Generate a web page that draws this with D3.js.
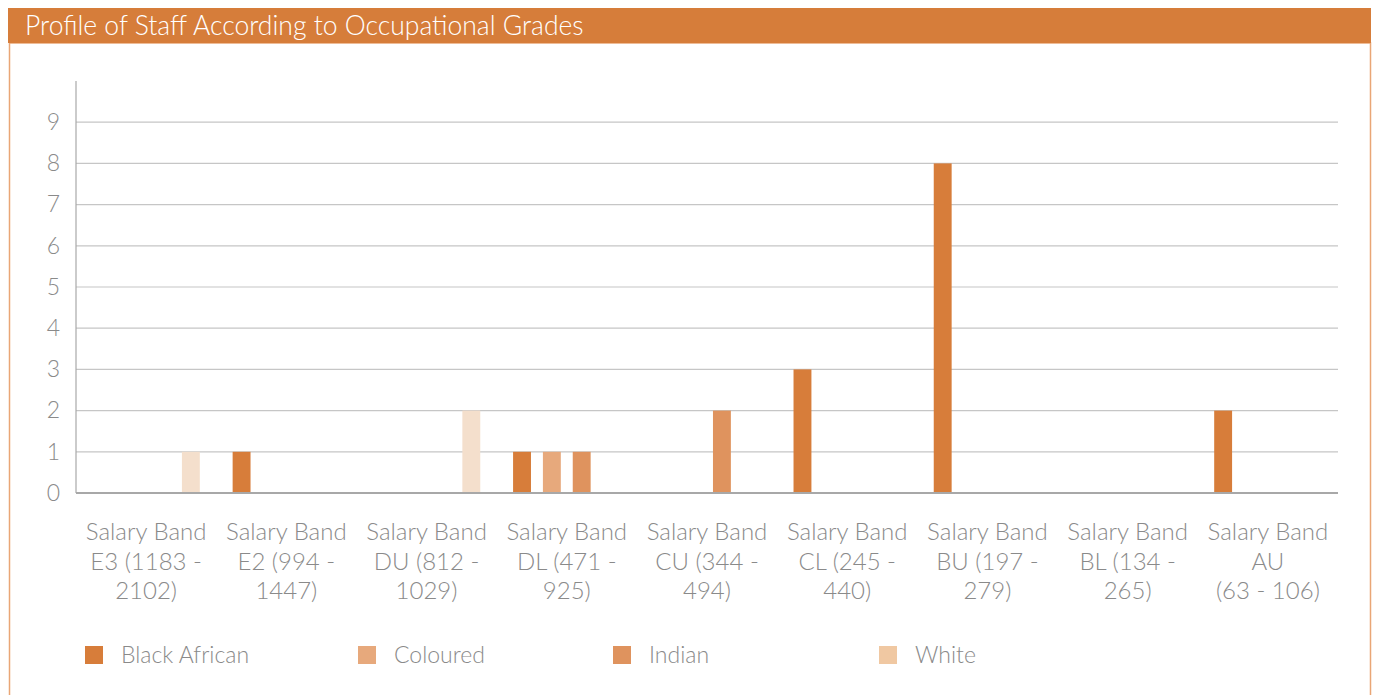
<!DOCTYPE html>
<html>
<head>
<meta charset="utf-8">
<script src="https://cdn.jsdelivr.net/npm/d3@7/dist/d3.min.js"></script>
<style>
  html, body { margin: 0; padding: 0; background: #fff; }
  svg { display: block; }
  text { font-family: Lato, "Open Sans", sans-serif; }
</style>
</head>
<body>
<svg id="chart" width="1378" height="695"></svg>
<script>
// Salary bands (categories) with their label lines
const bands = ["E3", "E2", "DU", "DL", "CU", "CL", "BU", "BL", "AU"];
const bandLabels = [
  ["Salary Band", "E3 (1183 -", "2102)"],
  ["Salary Band", "E2 (994 -", "1447)"],
  ["Salary Band", "DU (812 -", "1029)"],
  ["Salary Band", "DL (471 -", "925)"],
  ["Salary Band", "CU (344 -", "494)"],
  ["Salary Band", "CL (245 -", "440)"],
  ["Salary Band", "BU (197 -", "279)"],
  ["Salary Band", "BL (134 -", "265)"],
  ["Salary Band", "AU", "(63 - 106)"]
];

// Staff counts per series, one value per band
const series = ["Black African", "Coloured", "Indian", "White"];
const blackAfrican = [0, 1, 0, 1, 0, 3, 8, 0, 2];
const coloured     = [0, 0, 0, 1, 0, 0, 0, 0, 0];
const indian       = [0, 0, 0, 1, 2, 0, 0, 0, 0];
const white        = [1, 0, 2, 0, 0, 0, 0, 0, 0];
const yTicks = [0, 1, 2, 3, 4, 5, 6, 7, 8, 9];

const barColors    = ["#d77d3a", "#e7a97c", "#df935e", "#f4dfcc"];
const legendColors = ["#d77d3a", "#e7a97c", "#df935e", "#f0c8a2"];

const values = [blackAfrican, coloured, indian, white];
const rows = bands.map((b, i) => ({
  band: b,
  vals: series.map((s, j) => ({ key: s, idx: j, value: values[j][i] }))
}));

const svg = d3.select("#chart");

// Frame: title bar plus outlined panel
svg.append("rect").attr("x", 9.5).attr("y", 43).attr("width", 1361).attr("height", 660)
  .attr("fill", "#fff").attr("stroke", "#e9a676").attr("stroke-width", 1.5);
svg.append("rect").attr("x", 8).attr("y", 8).attr("width", 1363).attr("height", 35)
  .attr("fill", "#d67d3a");
svg.append("text").attr("x", 25).attr("y", 35)
  .attr("fill", "#fff").attr("font-size", 26.5).attr("font-weight", 300)
  .text("Profile of Staff According to Occupational Grades");

// Plot area
const plotL = 76, plotR = 1338, plotT = 81, plotB = 493;

const x0 = d3.scaleBand().domain(bands).range([plotL, plotR]).paddingInner(0).paddingOuter(0);
const x1 = d3.scaleBand().domain(series).range([0, x0.bandwidth()])
  .paddingInner(0.4).paddingOuter(0.55);
const y = d3.scaleLinear().domain([0, 10]).range([plotB, plotT]);

// Gridlines
svg.append("g").selectAll("line").data(yTicks.filter(t => t > 0)).join("line")
  .attr("x1", plotL).attr("x2", plotR)
  .attr("y1", d => y(d)).attr("y2", d => y(d))
  .attr("stroke", "#c6c6c6").attr("stroke-width", 1.2);

// Y axis with tick labels
const yAxis = d3.axisLeft(y).tickValues(yTicks).tickSize(0).tickPadding(16).tickFormat(d3.format("d"));
const gy = svg.append("g").attr("transform", `translate(${plotL},0)`).call(yAxis);
gy.select(".domain").remove();
gy.selectAll("text").attr("font-size", 23).attr("font-weight", 300).attr("fill", "#8a8a8a")
  .attr("font-family", "Lato, 'Open Sans', sans-serif");
svg.append("line").attr("x1", plotL).attr("x2", plotL).attr("y1", plotT).attr("y2", plotB)
  .attr("stroke", "#a8a8a8").attr("stroke-width", 1.2);

// Bars
const groups = svg.append("g").selectAll("g").data(rows).join("g")
  .attr("transform", d => `translate(${x0(d.band)},0)`);
groups.selectAll("rect").data(d => d.vals.filter(v => v.value > 0)).join("rect")
  .attr("x", d => x1(d.key))
  .attr("width", x1.bandwidth())
  .attr("y", d => y(d.value))
  .attr("height", d => y(0) - y(d.value))
  .attr("fill", d => barColors[d.idx]);

// X axis baseline and multi-line category labels
const xAxis = d3.axisBottom(x0).tickSize(0).tickFormat("");
const gx = svg.append("g").attr("transform", `translate(0,${plotB})`).call(xAxis);
gx.select(".domain").attr("stroke", "#a8a8a8").attr("stroke-width", 2).attr("d", `M${plotL},0H${plotR}`);
const lbl = svg.append("g").selectAll("text").data(bands).join("text")
  .attr("x", d => x0(d) + x0.bandwidth() / 2)
  .attr("y", 540)
  .attr("text-anchor", "middle")
  .attr("font-size", 24).attr("font-weight", 300).attr("fill", "#8a8a8a");
lbl.selectAll("tspan").data((d, i) => bandLabels[i]).join("tspan")
  .attr("x", function () { return d3.select(this.parentNode).attr("x"); })
  .attr("dy", (d, i) => i === 0 ? 0 : 29.5)
  .text(d => d);

// Legend
const legendX = [85, 358, 613, 879];
const lg = svg.append("g").selectAll("g").data(series).join("g")
  .attr("transform", (d, i) => `translate(${legendX[i]},646)`);
lg.append("rect").attr("width", 18).attr("height", 18).attr("fill", (d, i) => legendColors[i]);
lg.append("text").attr("x", 36).attr("y", 17)
  .attr("font-size", 23).attr("font-weight", 300).attr("fill", "#8a8a8a")
  .text(d => d);
</script>
</body>
</html>
